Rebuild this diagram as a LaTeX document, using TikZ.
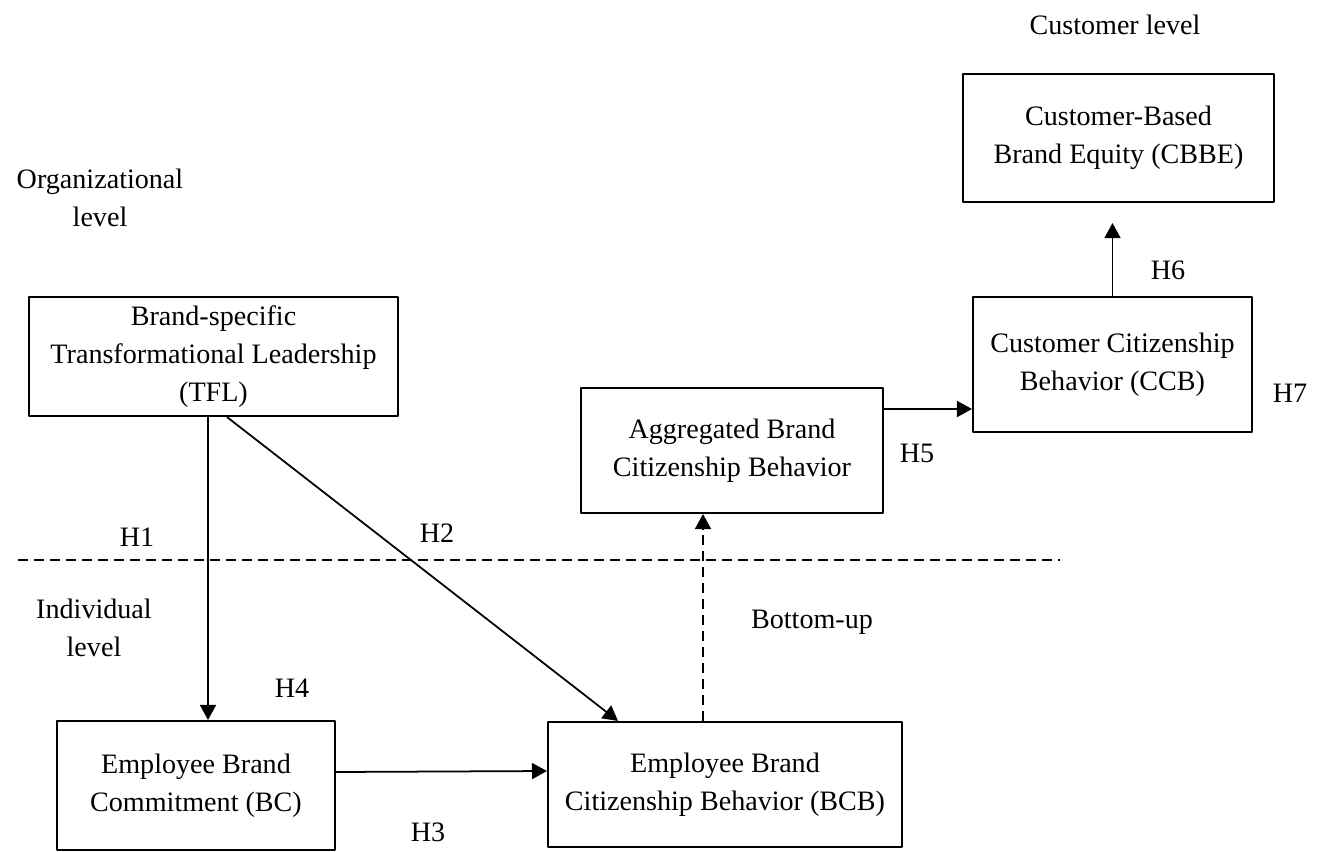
\documentclass[tikz,border=0pt]{standalone}
\usepackage{fontspec}
\setmainfont{Liberation Serif}
\usetikzlibrary{arrows.meta}
\begin{document}
\begin{tikzpicture}[x=0.02cm,y=-0.02cm,line join=round,
	>={Triangle[length=0.3cm,width=0.32cm]},
	font=\fontsize{16pt}{21.5pt}\selectfont,
	box/.style={draw,line width=1.2pt,align=center,inner sep=0pt},
	arr/.style={->,line width=1pt},
	dsh/.style={line width=1pt,dash pattern=on 0.2cm off 0.12cm}]
	\useasboundingbox (0,0) rectangle (1322,852);
	% cac o
	\node[box,minimum width=7.38cm,minimum height=2.38cm] (TFL) at (213.5,356.5) {Brand-specific\\Transformational Leadership\\(TFL)};
	\node[box,minimum width=5.56cm,minimum height=2.58cm] (BC) at (196,785.5) {Employee Brand\\Commitment (BC)};
	\node[box,minimum width=7.08cm,minimum height=2.5cm] (BCB) at (725,784.5) {Employee Brand\\Citizenship Behavior (BCB)};
	\node[box,minimum width=6.04cm,minimum height=2.5cm] (AGG) at (732,450.5) {Aggregated Brand\\Citizenship Behavior};
	\node[box,minimum width=5.58cm,minimum height=2.7cm] (CCB) at (1112.5,364.5) {Customer Citizenship\\Behavior (CCB)};
	\node[box,minimum width=6.22cm,minimum height=2.56cm] (CBBE) at (1118.5,138) {Customer-Based\\Brand Equity (CBBE)};
	% cac muc
	\node[align=center] (org) at (100,198) {Organizational\\level};
	\node[align=center] (ind) at (94,628) {Individual\\level};
	\node (cus) at (1115,25) {Customer level};
	\node (bot) at (812,622) {Bottom-up};
	% gia thuyet
	\node (H1) at (137,537) {H1};
	\node (H2) at (437,533) {H2};
	\node (H3) at (428,832) {H3};
	\node (H4) at (292,688) {H4};
	\node (H5) at (917,453) {H5};
	\node (H6) at (1168,270) {H6};
	\node (H7) at (1290,393) {H7};
	% duong ngang
	\coordinate (L) at (18,560);
	\coordinate (R) at (1060,560);
	\draw[dsh] (L)--(R);
	% cac mui ten
	\coordinate (c1) at (208,0);
	\coordinate (c2) at (703,0);
	\coordinate (c3) at (0,409);
	\draw[arr] (TFL.south -| c1)--(BC.north -| c1);
	\draw[arr] ([xshift=0.27cm]TFL.south)--([xshift=-2.14cm]BCB.north);
	\draw[arr] ([yshift=0.27cm]BC.east)--([yshift=0.27cm]BCB.west);
	\draw[arr,dsh] (BCB.north -| c2)--(AGG.south -| c2);
	\draw[arr] (AGG.east |- c3)--(CCB.west |- c3);
	\draw[arr,shorten >=0.4cm] (CCB.north)--(CCB.north |- CBBE.south);
\end{tikzpicture}
\end{document}
